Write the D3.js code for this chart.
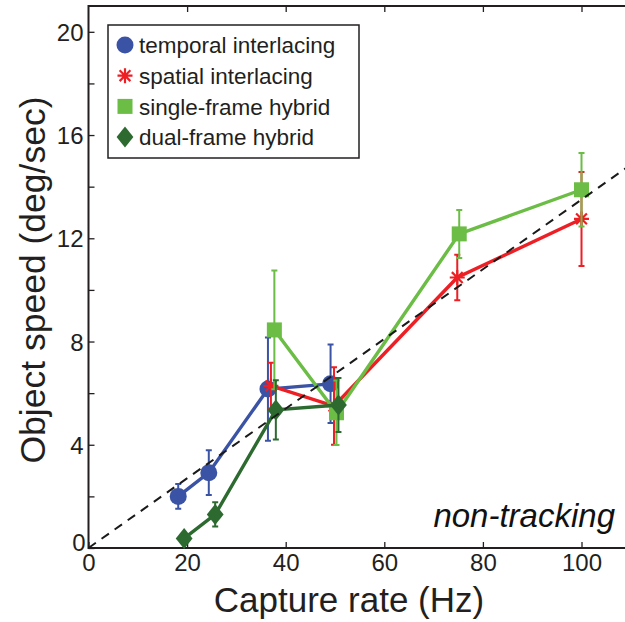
<!DOCTYPE html>
<html>
<head>
<meta charset="utf-8">
<script src="https://cdn.jsdelivr.net/npm/d3@7"></script>
<style>
  body { margin: 0; background: #fff; }
  svg { display: block; font-family: "Liberation Sans", Arial, sans-serif; }
</style>
</head>
<body>
<div id="chart"></div>
<script>
// data: capture rate (Hz) vs perceived object speed (deg/sec)
const temporalX = [18.2, 24.4, 36.4, 49.1];
const temporalY = [2.0, 2.92, 6.16, 6.36];
const temporalErr = [0.48, 0.87, 2.0, 1.52];

const spatialX = [37.0, 49.8, 74.8, 100];
const spatialY = [6.28, 5.5, 10.48, 12.75];
const spatialErr = [0.9, 1.5, 0.88, 1.82];

const singleX = [37.7, 50.3, 75.2, 100];
const singleY = [8.45, 5.24, 12.17, 13.88];
const singleErr = [2.3, 1.25, 0.93, 1.42];

const dualX = [19.4, 25.7, 38.0, 50.7];
const dualY = [0.37, 1.3, 5.35, 5.54];
const dualErr = [0.15, 0.47, 1.15, 1.05];

const xTicks = [0, 20, 40, 60, 80, 100];
const yTicks = [0, 2, 4, 6, 8, 10, 12, 14, 16, 18, 20];
const yLabels = [0, 4, 8, 12, 16, 20];
const unitySlope = 0.135; // dashed reference line

const W = 625, H = 622;
const plotLeft = 88.5, plotTop = 6, plotBottom = 548;

const x = d3.scaleLinear().domain([0, 110]).range([plotLeft, plotLeft + 110 * 4.93]);
const y = d3.scaleLinear().domain([0, 21]).range([plotBottom, plotTop]);

const svg = d3.select("#chart").append("svg")
  .attr("width", W).attr("height", H);

const axisColor = "#231f20";

// frame (left, bottom, top) - right edge falls outside the picture
svg.append("path")
  .attr("d", `M${x(110)},${plotTop}H${plotLeft}V${plotBottom}H${x(110)}`)
  .attr("fill", "none").attr("stroke", axisColor).attr("stroke-width", 2);

// inward ticks, MATLAB style
const xAxis = svg.append("g").attr("transform", `translate(0,${plotBottom})`)
  .call(d3.axisBottom(x).tickValues(xTicks).tickSizeInner(-6).tickSizeOuter(0).tickPadding(6));
const xAxisTop = svg.append("g").attr("transform", `translate(0,${plotTop})`)
  .call(d3.axisTop(x).tickValues(xTicks.slice(1)).tickSizeInner(-6).tickSizeOuter(0).tickFormat(""));
const yAxis = svg.append("g").attr("transform", `translate(${plotLeft},0)`)
  .call(d3.axisLeft(y).tickValues(yTicks).tickSizeInner(-6).tickSizeOuter(0).tickPadding(5)
    .tickFormat(v => yLabels.includes(v) ? v : ""));

[xAxis, xAxisTop, yAxis].forEach(g => {
  g.select(".domain").remove();
  g.selectAll("line").attr("stroke", axisColor).attr("stroke-width", 1.3);
  g.selectAll("text").attr("fill", axisColor).style("font-size", "24px");
});
yAxis.selectAll(".tick text").attr("dy", "0.36em");
// the "0" label sits tucked into the corner
yAxis.selectAll(".tick").filter(d => d === 0).select("text").attr("dy", "0.1em").attr("x", -3);

// axis titles
svg.append("text")
  .attr("x", 349).attr("y", 612)
  .attr("text-anchor", "middle")
  .style("font-size", "35px").attr("fill", axisColor)
  .text("Capture rate (Hz)");

svg.append("text")
  .attr("transform", "translate(45,280) rotate(-90)")
  .attr("text-anchor", "middle")
  .style("font-size", "35.5px").attr("fill", axisColor)
  .text("Object speed (deg/sec)");

svg.append("text")
  .attr("x", 615).attr("y", 527)
  .attr("text-anchor", "end")
  .style("font-size", "33px").style("font-style", "italic").attr("fill", "#111")
  .text("non-tracking");

// series
const series = [
  { name: "temporal interlacing", xs: temporalX, ys: temporalY, err: temporalErr, color: "#3a53a4", marker: "circle" },
  { name: "spatial interlacing", xs: spatialX, ys: spatialY, err: spatialErr, color: "#ed1f24", marker: "star" },
  { name: "single-frame hybrid", xs: singleX, ys: singleY, err: singleErr, color: "#6bbd45", marker: "square" },
  { name: "dual-frame hybrid", xs: dualX, ys: dualY, err: dualErr, color: "#2d6a30", marker: "diamond" }
];

function drawMarker(g, type, cx, cy, color, scale = 1) {
  if (type === "circle") {
    g.append("circle").attr("cx", cx).attr("cy", cy).attr("r", 8.5 * scale).attr("fill", color);
  } else if (type === "square") {
    const s = 15 * scale;
    g.append("rect").attr("x", cx - s / 2).attr("y", cy - s / 2).attr("width", s).attr("height", s).attr("fill", color);
  } else if (type === "diamond") {
    const r = 10.5 * scale;
    g.append("path").attr("d", `M${cx},${cy - r}L${cx + r * 0.8},${cy}L${cx},${cy + r}L${cx - r * 0.8},${cy}Z`).attr("fill", color);
  } else if (type === "star") {
    const r = 7.5 * scale, d = r * 0.72;
    g.append("path")
      .attr("d", `M${cx - r},${cy}H${cx + r}M${cx},${cy - r}V${cy + r}M${cx - d},${cy - d}L${cx + d},${cy + d}M${cx - d},${cy + d}L${cx + d},${cy - d}`)
      .attr("stroke", color).attr("stroke-width", 2.2).attr("fill", "none");
  }
}

const plotG = svg.append("g");
const line = d3.line().x(d => x(d[0])).y(d => y(d[1]));

series.forEach(s => {
  const g = plotG.append("g");
  const pts = s.xs.map((v, i) => [v, s.ys[i], s.err[i]]);

  // error bars
  pts.forEach(p => {
    const px = x(p[0]), y0 = y(p[1] - p[2]), y1 = y(p[1] + p[2]);
    g.append("path")
      .attr("d", `M${px},${y0}V${y1}M${px - 3},${y0}H${px + 3}M${px - 3},${y1}H${px + 3}`)
      .attr("stroke", s.color).attr("stroke-width", 2).attr("fill", "none");
  });

  g.append("path").datum(pts)
    .attr("d", line)
    .attr("fill", "none").attr("stroke", s.color).attr("stroke-width", 3.4);

  pts.forEach(p => drawMarker(g, s.marker, x(p[0]), y(p[1]), s.color));
});

// dashed reference line
svg.append("line")
  .attr("x1", x(0)).attr("y1", y(0))
  .attr("x2", x(110)).attr("y2", y(110 * unitySlope))
  .attr("stroke", "#1a1a1a").attr("stroke-width", 2)
  .attr("stroke-dasharray", "9 7");

// legend
const legendG = svg.append("g").attr("transform", "translate(108,25)");
legendG.append("rect")
  .attr("width", 251).attr("height", 133)
  .attr("fill", "#fff").attr("stroke", axisColor).attr("stroke-width", 1.5);

series.forEach((s, i) => {
  const cy = 20 + i * 30.7;
  drawMarker(legendG, s.marker, 17, cy, s.color);
  legendG.append("text")
    .attr("x", 31).attr("y", cy).attr("dy", "0.36em")
    .style("font-size", "22.5px").attr("fill", axisColor)
    .text(s.name);
});
</script>
</body>
</html>
